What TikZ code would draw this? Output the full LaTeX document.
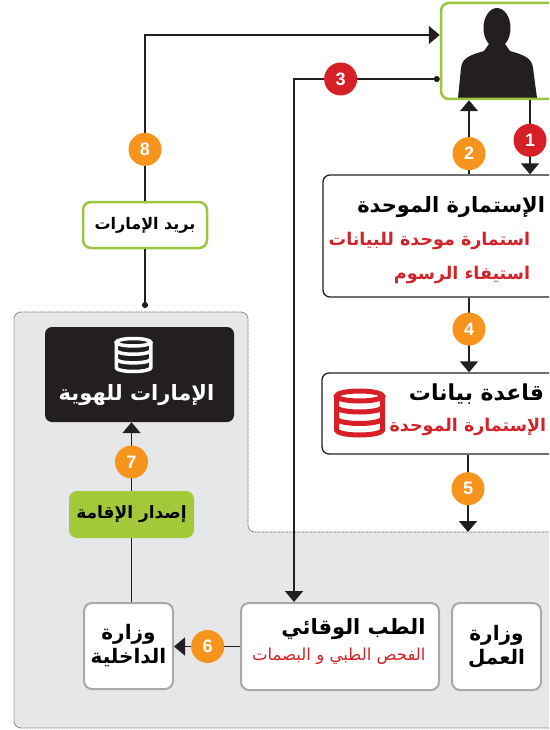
\documentclass[tikz,border=0pt]{standalone}
\usepackage{fontspec}
\setmainfont{Liberation Sans}
\newfontfamily\arabicfont[Script=Arabic]{DejaVu Sans}
\newfontfamily\numfont{Liberation Sans}
\TeXXeTstate=1
\usepackage{xcolor}
\definecolor{stepor}{HTML}{F7941D}
\definecolor{stepred}{HTML}{D71F27}
\definecolor{txtred}{HTML}{D2232A}
\definecolor{limeline}{HTML}{9BC53D}
\definecolor{limefill}{HTML}{A3C93A}
\definecolor{panel}{HTML}{E6E7E8}
\definecolor{inkbox}{HTML}{231F20}
\definecolor{rimgray}{HTML}{A7A9AC}
\usetikzlibrary{arrows.meta, positioning}
\newcommand{\artxt}[1]{{\beginR #1\endR}}

\tikzset{
  pics/dbstack/.style={code={
    \draw (0,-17) ellipse [x radius=23, y radius=5];
    \draw (-23,-17) -- (-23,17) arc[start angle=180, end angle=0, x radius=23, y radius=5] -- (23,-17);
    \draw (-23,-6) arc[start angle=180, end angle=0, x radius=23, y radius=5];
    \draw (-23,5.5) arc[start angle=180, end angle=0, x radius=23, y radius=5];
  }}
}

\begin{document}
\begin{tikzpicture}[x=1pt, y=-1pt, every node/.style={font=\arabicfont},
  arr/.style={line width=1.8pt, draw=inkbox, -{Triangle[width=18pt,length=11pt]}},
  arrdot/.style={arr, {Circle[length=6pt]}-{Triangle[width=18pt,length=11pt]}},
  wire/.style={line width=1.8pt, draw=inkbox},
  num/.style={circle, fill=stepor, text=white, inner sep=0pt, minimum size=33pt, font=\numfont\bfseries\fontsize{18}{18}\selectfont},
  numred/.style={num, fill=stepred},
  formbox/.style={draw=inkbox, line width=1.3pt, fill=white, rounded corners=7pt},
  greybox/.style={draw=rimgray, line width=2pt, fill=white, rounded corners=8pt, align=center, font=\arabicfont\bfseries\fontsize{20}{24}\selectfont},
  greenbox/.style={draw=limeline, line width=2.5pt, fill=white, rounded corners=8pt},
  redline/.style={anchor=east, text=txtred, font=\arabicfont\bfseries\fontsize{17.5}{17.5}\selectfont}]
  \clip (0,0) rectangle (549,730);
  % grey panel behind the lower steps
  \draw[fill=panel, draw=black!70, line width=0.8pt, dash pattern=on 0.8pt off 0.8pt, rounded corners=7pt]
    (14,312) -- (248,312) -- (248,532) -- (565,532) -- (565,728) -- (14,728) -- cycle;
  % guide columns and rows for the connectors
  \coordinate (colA) at (530,0);
  \coordinate (colB) at (469,0);
  \coordinate (colC) at (294,0);
  \coordinate (rowA) at (0,35);
  \coordinate (rowB) at (0,79);
  \coordinate (in5) at (468,532);
  \coordinate (pdot) at (145,308);
  % applicant
  \fill[inkbox] (458,98) -- (461,68) .. controls (462,58) and (470,55) .. (484,51) -- (489,44) -- (505,44) -- (510,51) .. controls (524,55) and (532,58) .. (533,68) -- (537,98) -- cycle;
  \fill[inkbox] (497,28) ellipse [x radius=13.5, y radius=20];
  \node[draw=limeline, line width=2.5pt, rounded corners=8pt, minimum width=120pt, minimum height=96pt] (person) at (501,51) {};
  % unified form
  \node[formbox, minimum width=238pt, minimum height=122pt] (form) at (442,236) {};
  \node[anchor=east, font=\arabicfont\bfseries\fontsize{21}{21}\selectfont] (formtitle) at ([xshift=-13pt,yshift=-33pt]form.north east) {\artxt{الإستمارة الموحدة}};
  \node[redline] (formline1) at ([xshift=-28pt,yshift=-67pt]form.north east) {\artxt{استمارة موحدة للبيانات}};
  \node[redline] (formline2) at ([xshift=-28pt,yshift=-101pt]form.north east) {\artxt{استيفاء الرسوم}};
  % database
  \node[formbox, minimum width=239pt, minimum height=81pt] (db) at (441.5,413.5) {};
  \pic[draw=stepred, line width=5pt] (dbicon) at (359.5,413) {dbstack};
  \node[anchor=east, font=\arabicfont\bfseries\fontsize{22}{22}\selectfont] (dbtitle) at ([xshift=-14pt,yshift=-22pt]db.north east) {\artxt{قاعدة بيانات}};
  \node[redline] (dbline) at ([xshift=-12pt,yshift=-55pt]db.north east) {\artxt{الإستمارة الموحدة}};
  % post
  \node[greenbox, minimum width=124pt, minimum height=46pt, font=\arabicfont\bfseries\fontsize{16}{16}\selectfont] (barid) at (145,225) {\artxt{بريد الإمارات}};
  % identity authority
  \node[fill=inkbox, rounded corners=7pt, minimum width=189pt, minimum height=95pt] (idb) at (139.5,374.5) {};
  \pic[draw=white, line width=3.5pt, scale=0.75] (idicon) at (133.5,355) {dbstack};
  \node[text=white, font=\arabicfont\bfseries\fontsize{21}{21}\selectfont] (idtitle) at ([xshift=-3pt,yshift=-21pt]idb.center) {\artxt{الإمارات للهوية}};
  \node[fill=limefill, rounded corners=8pt, minimum width=125pt, minimum height=47pt, font=\arabicfont\bfseries\fontsize{17}{17}\selectfont] (iqama) at (131.5,514.5) {\artxt{إصدار الإقامة}};
  % ministries
  \node[greybox, minimum width=89pt, minimum height=86pt] (dakh) at (128.5,646) {\artxt{وزارة}\\\artxt{الداخلية}};
  \node[greybox, minimum width=198pt, minimum height=87pt] (tibb) at (340,646.5) {};
  \node[anchor=east, font=\arabicfont\bfseries\fontsize{21}{21}\selectfont] (tibbtitle) at ([xshift=-11pt,yshift=-27pt]tibb.north east) {\artxt{الطب الوقائي}};
  \node[anchor=east, text=txtred, font=\arabicfont\fontsize{16.5}{16.5}\selectfont] (tibbline) at ([xshift=-11pt,yshift=-54pt]tibb.north east) {\artxt{الفحص الطبي و البصمات}};
  \node[greybox, minimum width=89pt, minimum height=87pt] (amal) at (496.5,646.5) {\artxt{وزارة}\\\artxt{العمل}};
  % steps
  \draw[arr] (person.south -| colA) -- (form.north -| colA) node[numred, pos=0.54] (n1) {1};
  \draw[arr] (form.north -| colB) -- (person.south -| colB) node[num, pos=0.28] (n2) {2};
  \draw[arrdot] (person.west |- rowB) -| (tibb.north -| colC) node[numred, pos=0.34] (n3) {3};
  \draw[arr] (form.south -| colB) -- (db.north -| colB) node[num, pos=0.42] (n4) {4};
  \draw[arr] (db.south -| in5) -- (in5) node[num, pos=0.44] (n5) {5};
  \draw[arr] (tibb.west) -- (tibb.west -| dakh.east) node[num, pos=0.49] (n6) {6};
  \draw[arr] (iqama.north) -- (iqama.north |- idb.south) node[num, pos=0.42] (n7) {7};
  \draw[wire] (iqama.south) -- (iqama.south |- dakh.north);
  \draw[arr] (barid.north) |- (person.west |- rowA) node[num, pos=0.155] (n8) {8};
  \draw[wire, -{Circle[length=6pt]}] (barid.south) -- (pdot);
\end{tikzpicture}
\end{document}
